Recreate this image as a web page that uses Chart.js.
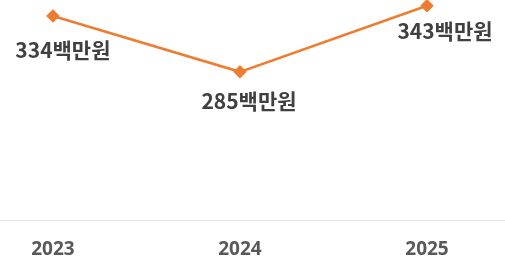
<!DOCTYPE html>
<html>
<head>
<meta charset="utf-8">
<script src="https://cdn.jsdelivr.net/npm/chart.js@4"></script>
<style>
  html, body { margin: 0; padding: 0; background: #fff; }
  #wrap { width: 505px; height: 262px; }
</style>
</head>
<body>
<div id="wrap"><canvas id="c"></canvas></div>
<script>
const years = ['2023', '2024', '2025'];
const amounts = [334, 285, 343];
const unit = '백만원';

// label offsets from each point (px)
const labelOffsets = [[10, 34], [9, 29], [18, 25]];

const pointLabels = {
  id: 'pointLabels',
  afterDatasetsDraw(chart) {
    const ctx = chart.ctx;
    const meta = chart.getDatasetMeta(0);
    ctx.save();
    ctx.font = 'bold 21px "Noto Sans CJK KR", "Noto Sans", sans-serif';
    ctx.fillStyle = '#404040';
    ctx.textAlign = 'center';
    ctx.textBaseline = 'middle';
    meta.data.forEach((pt, i) => {
      const [dx, dy] = labelOffsets[i];
      ctx.fillText(amounts[i] + unit, pt.x + dx, pt.y + dy);
    });
    ctx.restore();
  }
};

new Chart(document.getElementById('c'), {
  type: 'line',
  data: {
    datasets: [{
      data: years.map((y, i) => ({ x: Number(y), y: amounts[i] })),
      borderColor: '#ED7D31',
      backgroundColor: '#ED7D31',
      borderWidth: 2.5,
      pointStyle: 'rectRot',
      pointRadius: 5,
      pointHoverRadius: 5,
      tension: 0,
      clip: false
    }]
  },
  options: {
    responsive: true,
    maintainAspectRatio: false,
    animation: false,
    layout: { autoPadding: false, padding: 0 },
    plugins: { legend: { display: false }, tooltip: { enabled: false } },
    scales: {
      x: {
        type: 'linear',
        min: 2022.717,
        max: 2025.417,
        afterFit: s => { s.height = 42; },
        grid: { drawOnChartArea: false, drawTicks: false },
        border: { display: true, color: '#e6e6e6', width: 1 },
        ticks: {
          stepSize: 1,
          includeBounds: false,
          padding: 18,
          color: '#595959',
          font: { family: '"Noto Sans", sans-serif', size: 19, weight: 'bold' },
          callback: v => String(v)
        }
      },
      y: {
        display: false,
        min: 155,
        max: 348
      }
    }
  },
  plugins: [pointLabels]
});
</script>
</body>
</html>
